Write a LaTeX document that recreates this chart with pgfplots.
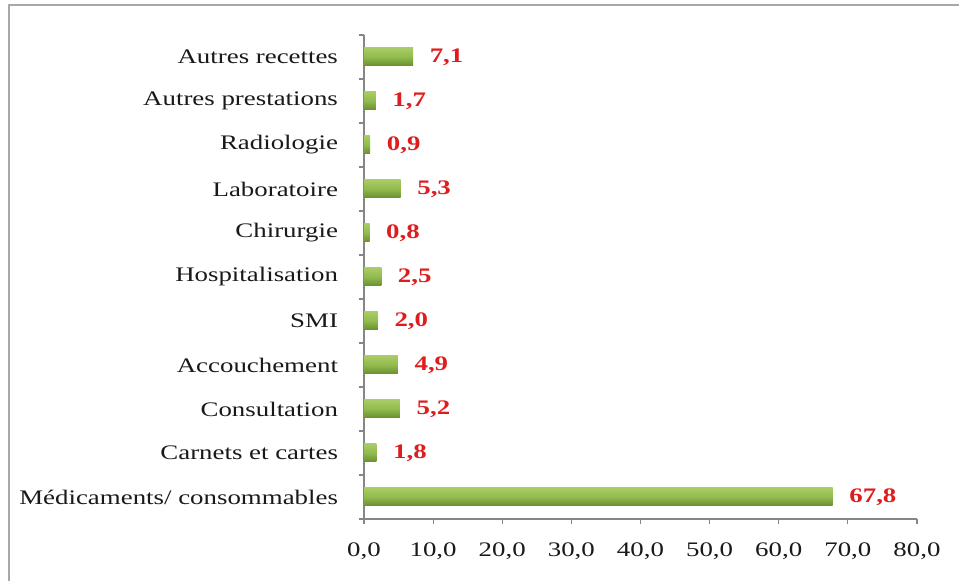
\documentclass[border=0pt]{standalone}
\usepackage{fontspec}
\setmainfont{Liberation Serif}[FakeStretch=1.3]
\usepackage{pgfplots}
\pgfplotsset{compat=1.18}
\definecolor{bartop}{RGB}{168,204,100}
\definecolor{barmid}{RGB}{145,186,78}
\definecolor{barbot}{RGB}{104,142,46}
\definecolor{valred}{RGB}{222,30,30}
\definecolor{axgray}{RGB}{134,134,134}
\definecolor{framegray}{RGB}{168,168,168}

\begin{document}
\begin{tikzpicture}[x=1pt,y=1pt]
\path[use as bounding box] (0,0) rectangle (719.25,435.75);
\draw[line width=1.5pt, framegray] (6.4,0) -- (6.4,432) -- (719.25,432);
\begin{axis}[
    at={(273pt,46.5pt)}, anchor=south west,
    scale only axis, width=414.75pt, height=363pt,
    xbar, bar width=13.5pt,
    gbar/.style={draw=none, top color=bartop, bottom color=barbot, middle color=barmid, bar shift=0pt},
    xmin=0, xmax=80, xtick={0,10,...,80},
    ymin=-0.5, ymax=10.5,
    ytick={-0.5,0.5,...,10.5}, yticklabels={},
    extra y ticks={0,...,10},
    extra y tick labels={Médicaments/ consommables,Carnets et cartes,Consultation,Accouchement,SMI,Hospitalisation,Chirurgie,Laboratoire,Radiologie,Autres prestations,Autres recettes},
    extra y tick style={tick style={draw=none}},
    axis lines*=left,
    axis line style={axgray, line width=0.9pt},
    tick style={axgray, line width=0.9pt},
    tick align=outside, major tick length=4pt,
    tick label style={font=\fontsize{15.5}{18}\selectfont, text=black!90},
    yticklabel style={xshift=-12pt},
    xticklabel style={yshift=-10pt},
    nodes near coords,
    nodes near coords style={font=\bfseries\fontsize{15.5}{18}\selectfont, text=valred, anchor=west, xshift=9pt},
    /pgf/number format/fixed,
    /pgf/number format/fixed zerofill,
    /pgf/number format/precision=1,
    /pgf/number format/use comma,
    /pgf/number format/assume math mode=true,
]
\addplot[gbar] coordinates {(67.8,0)};
\addplot[gbar] coordinates {(1.8,1)};
\addplot[gbar] coordinates {(5.2,2)};
\addplot[gbar] coordinates {(4.9,3)};
\addplot[gbar] coordinates {(2.0,4)};
\addplot[gbar] coordinates {(2.5,5)};
\addplot[gbar] coordinates {(0.8,6)};
\addplot[gbar] coordinates {(5.3,7)};
\addplot[gbar] coordinates {(0.9,8)};
\addplot[gbar] coordinates {(1.7,9)};
\addplot[gbar] coordinates {(7.1,10)};
\end{axis}
\end{tikzpicture}
\end{document}
